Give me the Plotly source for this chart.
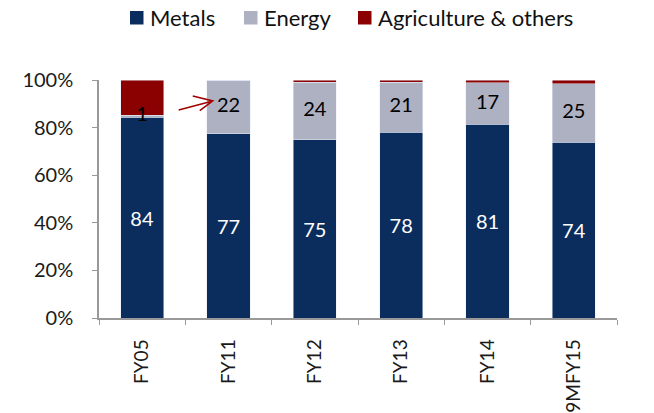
import plotly.graph_objects as go

# Share of turnover by commodity segment (%)
periods = ["FY05", "FY11", "FY12", "FY13", "FY14", "9MFY15"]
metals = [84.3, 77.4, 74.8, 78.0, 81.4, 73.8]
energy = [0.9, 22.4, 24.2, 21.0, 17.4, 24.6]
agri_others = [14.8, 0.2, 1.0, 1.0, 1.2, 1.6]
segments = ["Metals", "Energy", "Agriculture & others"]

NAVY = "#0B2D5E"
GREY = "#ADB1C2"
RED = "#8B0000"
FONT = "Lato"

W, H = 654, 413
ML, MR, MT, MB = 99, 37, 80, 95
PW, PH = W - ML - MR, H - MT - MB


def px_to_paper(px, py):
    return (px - ML) / PW, (H - MB - py) / PH


fig = go.Figure()
fig.add_bar(
    x=periods, y=metals, name=segments[0], marker_color=NAVY, showlegend=False,
    text=[f"{v:.0f}" for v in metals], textposition="inside",
    insidetextanchor="middle", textfont=dict(color="white", size=20, family=FONT),
)
fig.add_bar(
    x=periods, y=energy, name=segments[1], marker_color=GREY, showlegend=False,
    textposition="none",
)
fig.add_bar(
    x=periods, y=agri_others, name=segments[2], marker_color=RED,
    showlegend=False, textposition="none",
)

# energy share labels, centred on each grey segment
fig.add_scatter(
    x=periods, y=[m + e / 2 for m, e in zip(metals, energy)],
    text=[f"{v:.0f}" for v in energy], mode="text",
    textfont=dict(color="black", size=20, family=FONT),
    showlegend=False, hoverinfo="skip",
)

# legend row: square swatch + label, evenly spaced along the top
for i, (name, color) in enumerate(zip(segments, [NAVY, GREY, RED])):
    left = 130 + 114 * i
    x0, y0 = px_to_paper(left, 24.5)
    x1, y1 = px_to_paper(left + 13.5, 11)
    fig.add_shape(type="rect", xref="paper", yref="paper",
                  x0=x0, x1=x1, y0=y0, y1=y1,
                  fillcolor=color, line=dict(width=0))
    tx, ty = px_to_paper(left + 18, 17)
    fig.add_annotation(x=tx, y=ty, xref="paper", yref="paper",
                       text=name, showarrow=False, xanchor="left", yanchor="middle",
                       font=dict(size=22, family=FONT, color="#111111"))

# arrow pointing at the FY11 energy share
fig.add_shape(
    type="path", xref="x", yref="y",
    path="M 0.423 87.4 L 0.818 91.2 M 0.586 93.3 L 0.818 91.2 L 0.667 87.1",
    line=dict(color="#A00000", width=1.5),
)

fig.update_layout(
    width=W, height=H,
    margin=dict(l=ML, r=MR, t=MT, b=MB),
    barmode="stack", bargap=0.5,
    plot_bgcolor="white", paper_bgcolor="white",
    font=dict(family=FONT, size=20, color="#1a1a1a"),
    showlegend=False,
)

fig.update_yaxes(
    range=[0, 100], tickvals=[0, 20, 40, 60, 80, 100],
    ticktext=["0%", "20%", "40%", "60%", "80%", "100%"],
    showline=True, linecolor="#999999", linewidth=1.5,
    ticks="outside", ticklen=5, tickcolor="#999999", ticklabelstandoff=15,
    showgrid=False, zeroline=False, automargin=False,
)
fig.update_xaxes(
    tickangle=-90, showline=True, linecolor="#999999", linewidth=1.5,
    ticks="outside", ticklen=5, tickcolor="#999999", tickson="boundaries",
    ticklabelstandoff=12, showgrid=False, automargin=False,
    tickfont=dict(size=19),
)

fig.write_html("out.html")
